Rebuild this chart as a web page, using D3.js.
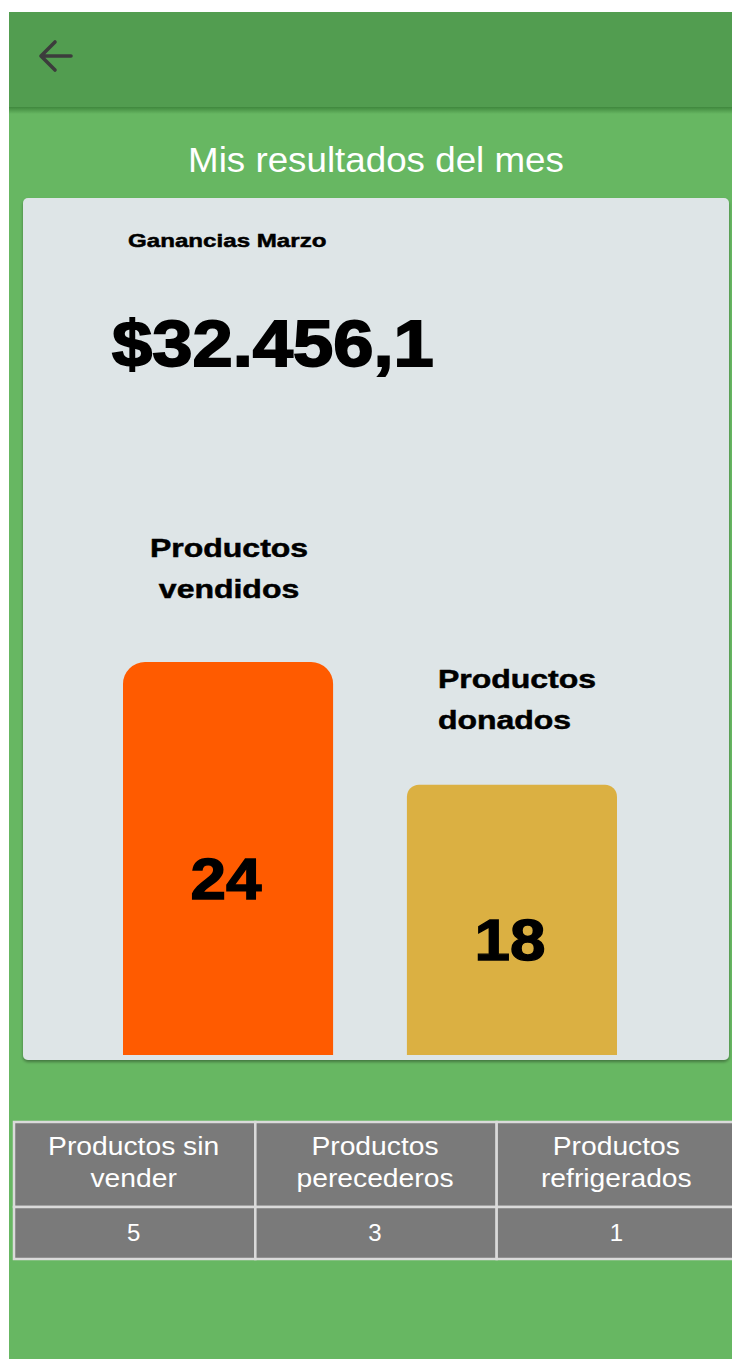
<!DOCTYPE html>
<html>
<head>
<meta charset="utf-8">
<script src="https://cdn.jsdelivr.net/npm/d3@7"></script>
<style>
  html, body { margin: 0; padding: 0; background: #fff; }
  svg { display: block; font-family: "Liberation Sans", Arial, sans-serif; }
</style>
</head>
<body>
<svg id="page" width="732" height="1359"></svg>
<script>
// Data
const pageTitle = "Mis resultados del mes";
const earningsLabel = "Ganancias Marzo";
const earningsValue = "$32.456,1";
const barLabels = [["Productos", "vendidos"], ["Productos", "donados"]];
const barValues = [24, 18];
const tableHeaders = [["Productos sin", "vender"], ["Productos", "perecederos"], ["Productos", "refrigerados"]];
const tableValues = [5, 3, 1];

// Styles
const barFill = ["#ff5b00", "#dbb042"];
const barRadius = [22, 12];
const green = "#67b762", darkGreen = "#529d50", cardFill = "#dee5e7";

let svg = d3.select("#page");
let defs = svg.append("defs");

let shadow = defs.append("filter").attr("id", "shadow")
    .attr("x", "-5%").attr("y", "-5%").attr("width", "110%").attr("height", "110%");
shadow.append("feDropShadow").attr("dx", 0).attr("dy", 2).attr("stdDeviation", 1.5)
    .attr("flood-color", "#000").attr("flood-opacity", 0.35);

let headGrad = defs.append("linearGradient").attr("id", "headShadow")
    .attr("x1", 0).attr("y1", 0).attr("x2", 0).attr("y2", 1);
headGrad.append("stop").attr("offset", "0%").attr("stop-color", "#3f873d");
headGrad.append("stop").attr("offset", "100%").attr("stop-color", green);

// stretch text horizontally to mimic the wide bold face in the screenshot
function stretch(sel, k) {
    sel.each(function() {
        let w = this.getComputedTextLength();
        d3.select(this).attr("textLength", w * k).attr("lengthAdjust", "spacingAndGlyphs");
    });
}

// background + app bar
svg.append("rect").attr("x", 9).attr("y", 12).attr("width", 723).attr("height", 1347).attr("fill", green);
svg.append("rect").attr("x", 9).attr("y", 107).attr("width", 723).attr("height", 7).attr("fill", "url(#headShadow)");
svg.append("rect").attr("x", 9).attr("y", 12).attr("width", 723).attr("height", 95).attr("fill", darkGreen);

// back arrow
svg.append("path")
    .attr("d", "M71,56 H41 M55,42 L41,56 L55,70")
    .attr("fill", "none").attr("stroke", "#3c3c3c").attr("stroke-width", 3.6)
    .attr("stroke-linecap", "round").attr("stroke-linejoin", "round");

svg.append("text").attr("x", 376).attr("y", 172).attr("text-anchor", "middle")
    .attr("font-size", 35).attr("fill", "#fff").text(pageTitle)
    .call(stretch, 1.05);

// card
svg.append("rect").attr("x", 23).attr("y", 198).attr("width", 706).attr("height", 862)
    .attr("rx", 5).attr("fill", cardFill).attr("filter", "url(#shadow)");

svg.append("text").attr("x", 128).attr("y", 247).attr("font-size", 19).attr("font-weight", "bold")
    .attr("fill", "#000").attr("stroke", "#000").attr("stroke-width", 0.5).text(earningsLabel)
    .call(stretch, 1.27);

svg.append("text").attr("x", 112).attr("y", 366).attr("font-size", 64).attr("font-weight", "bold")
    .attr("fill", "#000").attr("stroke", "#000").attr("stroke-width", 1.8).text(earningsValue)
    .call(stretch, 1.13);

// bars
let x = d3.scaleBand().domain(d3.range(barValues.length)).range([123, 617]).paddingInner(0.26);
let y = d3.scaleLinear().domain([4.8, 24]).range([1055, 662]);

function topRounded(x0, y0, w, h, r) {
    let p = d3.path();
    p.moveTo(x0, y0 + h);
    p.lineTo(x0, y0 + r);
    p.arcTo(x0, y0, x0 + r, y0, r);
    p.lineTo(x0 + w - r, y0);
    p.arcTo(x0 + w, y0, x0 + w, y0 + r, r);
    p.lineTo(x0 + w, y0 + h);
    p.closePath();
    return p.toString();
}

let bars = svg.append("g").attr("class", "bars")
    .selectAll("g").data(barValues).enter().append("g");

bars.append("path")
    .attr("d", (d, i) => topRounded(x(i), y(d), x.bandwidth(), y.range()[0] - y(d), barRadius[i]))
    .attr("fill", (d, i) => barFill[i]);

bars.append("text")
    .attr("x", (d, i) => x(i) + x.bandwidth() / 2 - 2)
    .attr("y", d => (y(d) + y.range()[0]) / 2 + 40)
    .attr("text-anchor", "middle").attr("font-size", 58).attr("font-weight", "bold")
    .attr("fill", "#000").attr("stroke", "#000").attr("stroke-width", 1.4)
    .text(d => d)
    .call(stretch, 1.1);

// category labels above bars
const labelAnchor = ["middle", "start"];
const labelDx = [(x.bandwidth() / 2) + 1, 31];
const labelDy = [-105, -97];
bars.each(function(d, i) {
    let g = d3.select(this);
    barLabels[i].forEach((line, j) => {
        g.append("text")
            .attr("x", x(i) + labelDx[i])
            .attr("y", y(d) + labelDy[i] + j * 41)
            .attr("text-anchor", labelAnchor[i])
            .attr("font-size", 26).attr("font-weight", "bold")
            .attr("fill", "#000").attr("stroke", "#000").attr("stroke-width", 0.5)
            .text(line)
            .call(stretch, 1.23);
    });
});

// summary table
let cx = d3.scaleBand().domain(d3.range(tableHeaders.length)).range([14, 738]);
let rowTop = [1122, 1207], rowH = [85, 52];
let table = svg.append("g").attr("class", "table");

table.selectAll(".head").data(tableHeaders).enter().append("rect")
    .attr("class", "head")
    .attr("x", (d, i) => cx(i)).attr("y", rowTop[0])
    .attr("width", cx.bandwidth()).attr("height", rowH[0]);
table.selectAll(".val").data(tableValues).enter().append("rect")
    .attr("class", "val")
    .attr("x", (d, i) => cx(i)).attr("y", rowTop[1])
    .attr("width", cx.bandwidth()).attr("height", rowH[1]);
table.selectAll("rect").attr("fill", "#7a7a7a").attr("stroke", "#dadada").attr("stroke-width", 2.5);

tableHeaders.forEach((lines, i) => {
    lines.forEach((line, j) => {
        table.append("text")
            .attr("x", cx(i) + cx.bandwidth() / 2 - 1)
            .attr("y", 1155 + j * 32)
            .attr("text-anchor", "middle").attr("font-size", 25).attr("fill", "#fff")
            .text(line)
            .call(stretch, 1.13);
    });
});

table.selectAll(".valtext").data(tableValues).enter().append("text")
    .attr("class", "valtext")
    .attr("x", (d, i) => cx(i) + cx.bandwidth() / 2 - 1)
    .attr("y", 1241)
    .attr("text-anchor", "middle").attr("font-size", 24).attr("fill", "#fff")
    .text(d => d);
</script>
</body>
</html>
